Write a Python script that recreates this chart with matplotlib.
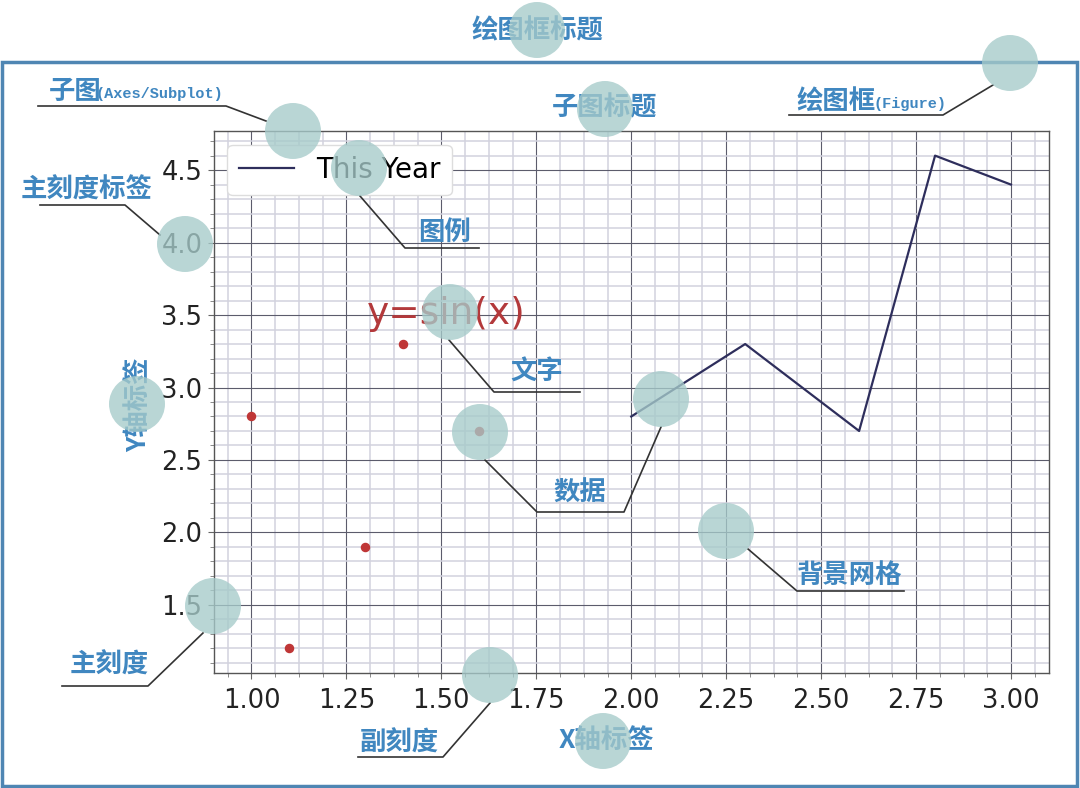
import matplotlib
matplotlib.use("Agg")
import matplotlib.pyplot as plt
from matplotlib.lines import Line2D
from matplotlib.patches import Ellipse, Rectangle
from matplotlib.ticker import AutoMinorLocator

# data
line_x = [2.0, 2.3, 2.6, 2.8, 3.0]
line_y = [2.8, 3.3, 2.7, 4.6, 4.4]
dots_x = [1.0, 1.1, 1.3, 1.4, 1.6]
dots_y = [2.8, 1.2, 1.9, 3.3, 2.7]
legend_label = "This Year"
inner_text = "y=sin(x)"

W, H = 1080, 788
CJK = ["Noto Sans CJK SC", "DejaVu Sans"]
MONO = ["Liberation Mono", "DejaVu Sans Mono"]
BLUE = "#4087c0"


def fp(x, y):
    """pixel (top-left origin) -> figure fraction"""
    return x / W, 1 - y / H


fig = plt.figure(figsize=(W / 100, H / 100), dpi=100, facecolor="white")
ax = fig.add_axes([213.5 / W, (H - 673) / H, (1049 - 213.5) / W, (673 - 131) / H])

ax.plot(line_x, line_y, color="#2e2e5c", lw=1.6, label=legend_label, zorder=3)
ax.scatter(dots_x, dots_y, s=34, color="#bf3636", zorder=3)
ax.text(1.305, 3.51, inner_text, color="#b3393b", fontsize=27, va="center", zorder=3)

ax.xaxis.set_minor_locator(AutoMinorLocator(4))
ax.yaxis.set_minor_locator(AutoMinorLocator(5))
ax.set_xticks([1.0, 1.25, 1.5, 1.75, 2.0, 2.25, 2.5, 2.75, 3.0])
ax.grid(which="major", color="#5c5c6c", lw=0.8)
ax.grid(which="minor", color="#d2d2de", lw=1.1)
ax.set_axisbelow(True)
ax.tick_params(which="major", labelsize=18.5, labelcolor="#222222", color="#666666",
               length=4, direction="out")
ax.tick_params(axis="x", which="major", pad=7)
ax.tick_params(axis="y", which="major", pad=4)
ax.tick_params(which="minor", length=3, color="#777777")
for sp in ax.spines.values():
    sp.set_color("#555555")
    sp.set_linewidth(1.0)

leg = ax.legend(loc="upper left", fontsize=20, handlelength=2.0, fancybox=True,
                framealpha=1.0, edgecolor="#dddddd")

# figure border
x0, y0 = fp(2, 786)
fig.add_artist(Rectangle((x0, y0), (1077 - 2) / W, (786 - 62) / H, fill=False,
                         lw=2.5, ec="#4f86b3", transform=fig.transFigure, zorder=2))

# leader lines
leaders = [
    [(38, 106), (226, 106), (266, 121)],
    [(789, 115), (943, 115), (993, 85)],
    [(40, 205), (125, 205), (160, 235)],
    [(479, 248), (405, 248), (360, 196)],
    [(449, 340), (494, 392), (580, 392)],
    [(485, 460), (537, 512), (624, 512), (661, 427)],
    [(748, 549), (797, 591), (904, 591)],
    [(203, 633), (148, 686), (62, 686)],
    [(490, 703), (443, 757), (358, 757)],
]
for pts in leaders:
    xs = [fp(x, y)[0] for x, y in pts]
    ys = [fp(x, y)[1] for x, y in pts]
    fig.add_artist(Line2D(xs, ys, color="#333333", lw=1.2, transform=fig.transFigure, zorder=4))

# labels
labels = [
    ("绘图框标题", 537, 31),
    ("子图标题", 605, 108),
    ("主刻度标签", 87, 190),
    ("图例", 444, 232),
    ("文字", 537, 372),
    ("数据", 580, 493),
    ("背景网格", 849, 575),
    ("主刻度", 109, 665),
    ("副刻度", 399, 743),
    ("X轴标签", 606, 740),
]
for txt, x, y in labels:
    fig.text(*fp(x, y), txt, family=CJK, fontsize=19, fontweight="bold", color=BLUE,
             ha="center", va="center", zorder=3)

fig.text(*fp(139, 405), "Y轴标签", family=CJK, fontsize=19, fontweight="bold", color=BLUE,
         ha="center", va="center", rotation=90, zorder=3)

fig.text(*fp(49, 99), "子图", family=CJK, fontsize=19, fontweight="bold", color=BLUE,
         ha="left", va="baseline", zorder=3)
fig.text(*fp(96, 98), "(Axes/Subplot)", family=MONO, fontsize=11, fontweight="bold",
         color=BLUE, ha="left", va="baseline", zorder=3)
fig.text(*fp(796, 109), "绘图框", family=CJK, fontsize=19, fontweight="bold", color=BLUE,
         ha="left", va="baseline", zorder=3)
fig.text(*fp(873, 108), "(Figure)", family=MONO, fontsize=11, fontweight="bold",
         color=BLUE, ha="left", va="baseline", zorder=3)

# highlight circles
circles = [(537, 30), (293, 131), (605, 109), (1010, 63), (185, 244), (359, 168),
           (450, 312), (480, 432), (661, 399), (726, 531), (213, 606), (490, 675),
           (603, 741), (137, 404)]
r = 28
for cx, cy in circles:
    fig.add_artist(Ellipse(fp(cx, cy), 2 * r / W, 2 * r / H, fc="#a6cbca", ec="none",
                           alpha=0.78, transform=fig.transFigure, zorder=5))

plt.savefig("out.png", dpi=100)
plt.close(fig)
